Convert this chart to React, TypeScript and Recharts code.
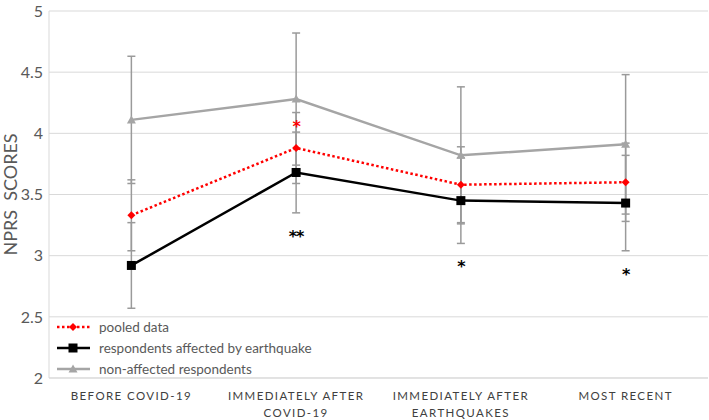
import { ComposedChart, Line, XAxis, YAxis, CartesianGrid, ErrorBar, ReferenceDot, Legend, Label } from 'recharts'

const categories = ['BEFORE COVID-19', 'IMMEDIATELY AFTER COVID-19', 'IMMEDIATELY AFTER EARTHQUAKES', 'MOST RECENT']
const tickLines = [['BEFORE COVID-19'], ['IMMEDIATELY AFTER', 'COVID-19'], ['IMMEDIATELY AFTER', 'EARTHQUAKES'], ['MOST RECENT']]

const pooled = [3.33, 3.88, 3.58, 3.6]
const pooledErr = [0.29, 0.29, 0.31, 0.32]
const affected = [2.92, 3.68, 3.45, 3.43]
const affectedErr = [0.35, 0.33, 0.35, 0.39]
const nonAffected = [4.11, 4.28, 3.82, 3.91]
const nonAffectedErr = [0.52, 0.54, 0.56, 0.57]

const yTicks = [2, 2.5, 3, 3.5, 4, 4.5, 5]

// significance marks: category index, y value, text, colour
const marks = [
  { idx: 1, y: 4.09, text: '*', color: '#ff0000' },
  { idx: 1, y: 3.19, text: '**', color: '#000000' },
  { idx: 2, y: 2.95, text: '*', color: '#000000' },
  { idx: 3, y: 2.88, text: '*', color: '#000000' },
]

const data = categories.map((name, i) => ({
  name,
  pooled: pooled[i],
  pooledErr: pooledErr[i],
  affected: affected[i],
  affectedErr: affectedErr[i],
  nonAffected: nonAffected[i],
  nonAffectedErr: nonAffectedErr[i],
}))

const FONT = 'Lato, "Open Sans", sans-serif'
const GREY = '#a5a5a5'
const ERR = '#9a9a9a'

const Diamond = ({ cx, cy }: any) => (
  <polygon points={`${cx},${cy - 4} ${cx + 4},${cy} ${cx},${cy + 4} ${cx - 4},${cy}`} fill="#ff0000" />
)
const Square = ({ cx, cy }: any) => <rect x={cx - 4.5} y={cy - 4.5} width={9} height={9} fill="#000" />
const Triangle = ({ cx, cy }: any) => (
  <polygon points={`${cx},${cy - 4.5} ${cx + 4.5},${cy + 3.5} ${cx - 4.5},${cy + 3.5}`} fill={GREY} />
)

const series = [
  { key: 'pooled', name: 'pooled data', color: '#ff0000', dash: '2.5 2.5', marker: Diamond },
  { key: 'affected', name: 'respondents affected by earthquake', color: '#000000', dash: undefined, marker: Square },
  { key: 'nonAffected', name: 'non-affected respondents', color: GREY, dash: undefined, marker: Triangle },
]

const XTick = ({ x, y, payload }: any) => {
  const lines = tickLines[payload.index] || [payload.value]
  return (
    <text x={x} y={y} textAnchor="middle" fill="#404040" fontSize={11.5} fontFamily={FONT} letterSpacing={1.4}>
      {lines.map((l, i) => (
        <tspan key={i} x={x} dy={i === 0 ? 14 : 17}>
          {l}
        </tspan>
      ))}
    </text>
  )
}

const LegendBox = () => (
  <div style={{ fontFamily: FONT, fontSize: 13.5, color: '#595959' }}>
    {series.map((s) => {
      const M = s.marker
      return (
        <div key={s.key} style={{ display: 'flex', alignItems: 'center', height: 21 }}>
          <svg width={37} height={12} style={{ marginRight: 7 }}>
            <line x1={2} y1={6} x2={35} y2={6} stroke={s.color} strokeWidth={2.5} strokeDasharray={s.dash} />
            <M cx={18} cy={6} />
          </svg>
          <span>{s.name}</span>
        </div>
      )
    })}
  </div>
)

export default function App() {
  return (
    <div style={{ position: 'absolute', left: 0, top: 0, background: '#fff' }}>
      <ComposedChart width={709} height={420} data={data} margin={{ top: 11, right: 1, bottom: 0, left: 0 }}>
        <CartesianGrid vertical={false} stroke="#d9d9d9" strokeWidth={1} />
        <XAxis
          dataKey="name"
          scale="band"
          stroke="#d9d9d9"
          tickLine={false}
          height={42}
          interval={0}
          tick={<XTick />}
        />
        <YAxis
          domain={[2, 5]}
          ticks={yTicks}
          width={49}
          stroke="#d9d9d9"
          tickLine={false}
          tickSize={0}
          tickMargin={6}
          tick={{ fill: '#595959', fontSize: 16, fontFamily: FONT }}
        >
          <Label
            value={'NPRS\u00a0\u00a0SCORES'}
            angle={-90}
            position="insideLeft"
            offset={0}
            dx={11}
            style={{ fill: '#595959', fontSize: 18, fontFamily: FONT, textAnchor: 'middle' }}
          />
        </YAxis>
        {series.map((s) => (
          <Line
            key={s.key}
            dataKey={s.key}
            name={s.name}
            stroke={s.color}
            strokeWidth={2.5}
            strokeDasharray={s.dash}
            dot={<s.marker />}
            activeDot={false}
            isAnimationActive={false}
          >
            <ErrorBar dataKey={`${s.key}Err`} width={4} stroke={ERR} strokeWidth={1.5} />
          </Line>
        ))}
        {marks.map((m, i) => (
          <ReferenceDot
            key={i}
            x={categories[m.idx]}
            y={m.y}
            r={1}
            shape={(p: any) => (
              <text x={p.cx} y={p.cy + 10} textAnchor="middle" fill={m.color} fontSize={16} fontWeight="bold" fontFamily="DejaVu Sans" letterSpacing={-1}>
                {m.text}
              </text>
            )}
          />
        ))}
        <Legend
          layout="vertical"
          align="center"
          verticalAlign="middle"
          content={<LegendBox />}
          wrapperStyle={{ left: 55, top: 316, width: 340, height: 63 }}
        />
      </ComposedChart>
    </div>
  )
}
